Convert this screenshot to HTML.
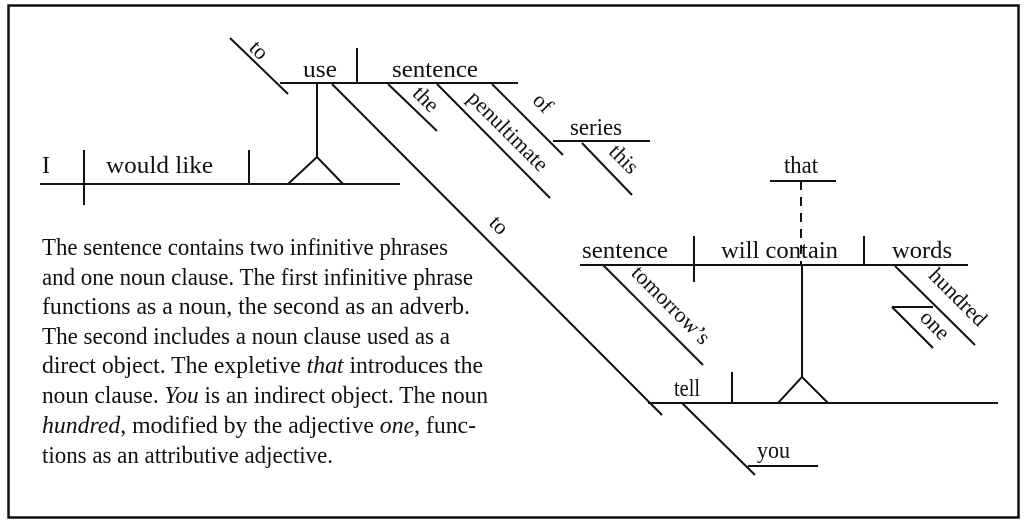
<!DOCTYPE html>
<html><head><style>
html,body{margin:0;padding:0;background:#fff;}
svg{display:block;}
text{font-family:"Liberation Serif",serif;fill:#111;}
</style></head><body>
<svg width="1026" height="525" viewBox="0 0 1026 525" xmlns="http://www.w3.org/2000/svg">
<rect x="8.5" y="5.5" width="1010" height="512" fill="none" stroke="#111" stroke-width="2.5"/>
<g stroke="#111" stroke-width="2" fill="none">
<line x1="230" y1="38" x2="288" y2="94"/>
<line x1="280" y1="83" x2="518" y2="83"/>
<line x1="357" y1="48" x2="357" y2="83"/>
<line x1="317" y1="83" x2="317" y2="157"/>
<polyline points="288,184 317,157 343,184"/>
<line x1="388" y1="84" x2="437" y2="131"/>
<line x1="437" y1="84" x2="550" y2="198"/>
<line x1="492" y1="84" x2="563" y2="155"/>
<line x1="553" y1="141" x2="650" y2="141"/>
<line x1="582" y1="143" x2="632" y2="195"/>
<line x1="40" y1="184" x2="400" y2="184"/>
<line x1="84" y1="150" x2="84" y2="205"/>
<line x1="249" y1="150" x2="249" y2="184"/>
<line x1="332" y1="84" x2="662" y2="415"/>
<line x1="648" y1="403" x2="998" y2="403"/>
<line x1="732" y1="372" x2="732" y2="403"/>
<line x1="682" y1="403" x2="755" y2="475"/>
<line x1="748" y1="466" x2="818" y2="466"/>
<polyline points="778,403 802,377 828,403"/>
<line x1="802" y1="265" x2="802" y2="377"/>
<line x1="580" y1="265" x2="968" y2="265"/>
<line x1="694" y1="236" x2="694" y2="282"/>
<line x1="864" y1="236" x2="864" y2="265"/>
<line x1="603" y1="265" x2="703" y2="365"/>
<line x1="895" y1="266" x2="975" y2="345"/>
<line x1="892" y1="307" x2="933" y2="307"/>
<line x1="892" y1="307" x2="933" y2="348"/>
<line x1="770" y1="181" x2="836" y2="181"/>
<line x1="801" y1="181" x2="801" y2="265" stroke-dasharray="9,7"/>
</g>
<g font-size="24">
<text x="303" y="77" textLength="34" lengthAdjust="spacingAndGlyphs">use</text>
<text x="392" y="77" textLength="86" lengthAdjust="spacingAndGlyphs">sentence</text>
<text x="42" y="173">I</text>
<text x="106" y="173" textLength="107" lengthAdjust="spacingAndGlyphs">would like</text>
<text x="570" y="135" textLength="52" lengthAdjust="spacingAndGlyphs">series</text>
<text x="784" y="173" textLength="34" lengthAdjust="spacingAndGlyphs">that</text>
<text x="582" y="258" textLength="86" lengthAdjust="spacingAndGlyphs">sentence</text>
<text x="721" y="258" textLength="117" lengthAdjust="spacingAndGlyphs">will contain</text>
<text x="892" y="258" textLength="60" lengthAdjust="spacingAndGlyphs">words</text>
<text x="674" y="396" textLength="26" lengthAdjust="spacingAndGlyphs">tell</text>
<text x="757" y="458" textLength="33" lengthAdjust="spacingAndGlyphs">you</text>
<g font-size="22">
<text transform="translate(254,55) rotate(45)" text-anchor="middle">to</text>
<text transform="translate(421,104) rotate(45)" text-anchor="middle">the</text>
<text transform="translate(503,136) rotate(45)" text-anchor="middle">penultimate</text>
<text transform="translate(538,108) rotate(45)" text-anchor="middle">of</text>
<text transform="translate(619,164) rotate(45)" text-anchor="middle">this</text>
<text transform="translate(494,230) rotate(45)" text-anchor="middle">to</text>
<text transform="translate(666,310) rotate(45)" text-anchor="middle">tomorrow’s</text>
<text transform="translate(953,302) rotate(45)" text-anchor="middle">hundred</text>
<text transform="translate(930,330) rotate(45)" text-anchor="middle">one</text>
</g>
</g>
<g font-size="24">
<text x="42" y="255" textLength="406" lengthAdjust="spacingAndGlyphs">The sentence contains two infinitive phrases</text>
<text x="42" y="285" textLength="431" lengthAdjust="spacingAndGlyphs">and one noun clause. The first infinitive phrase</text>
<text x="42" y="314" textLength="428" lengthAdjust="spacingAndGlyphs">functions as a noun, the second as an adverb.</text>
<text x="42" y="344" textLength="408" lengthAdjust="spacingAndGlyphs">The second includes a noun clause used as a</text>
<text x="42" y="373" textLength="441" lengthAdjust="spacingAndGlyphs">direct object. The expletive <tspan font-style="italic">that</tspan> introduces the</text>
<text x="42" y="403" textLength="446" lengthAdjust="spacingAndGlyphs">noun clause. <tspan font-style="italic">You</tspan> is an indirect object. The noun</text>
<text x="42" y="433" textLength="434" lengthAdjust="spacingAndGlyphs"><tspan font-style="italic">hundred</tspan>, modified by the adjective <tspan font-style="italic">one</tspan>, func-</text>
<text x="42" y="463" textLength="291" lengthAdjust="spacingAndGlyphs">tions as an attributive adjective.</text>
</g>
</svg>
</body></html>
